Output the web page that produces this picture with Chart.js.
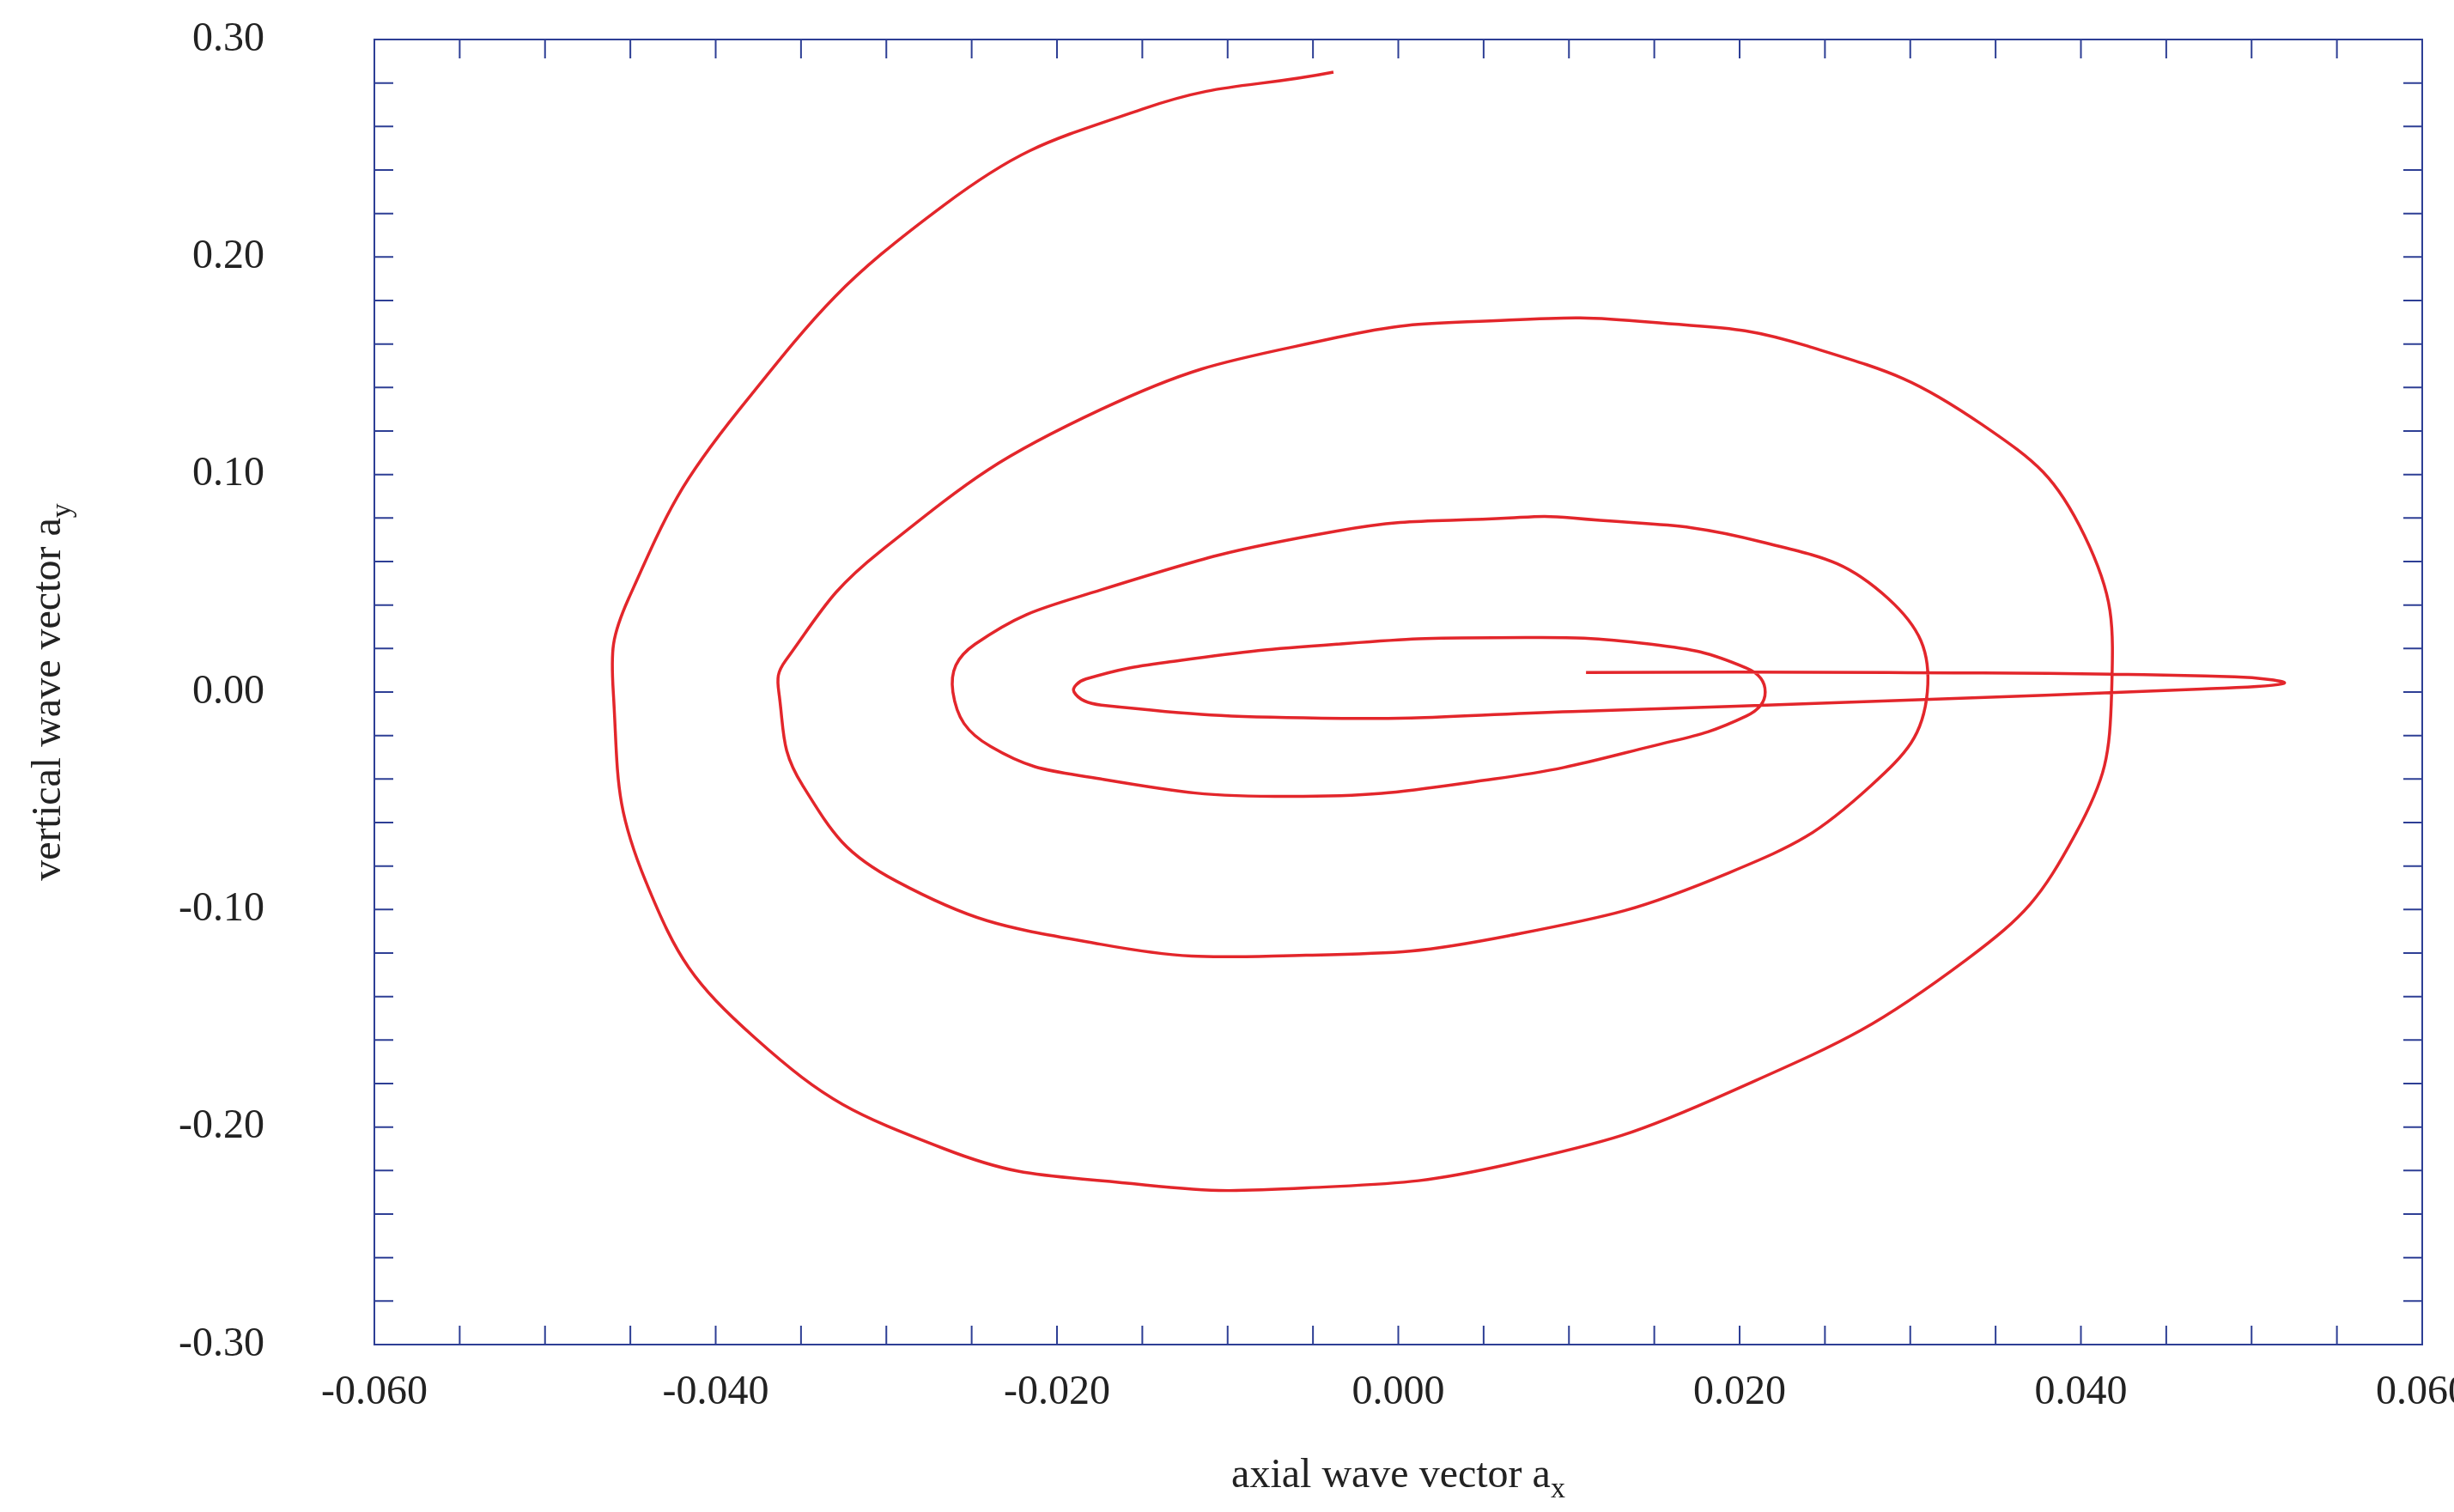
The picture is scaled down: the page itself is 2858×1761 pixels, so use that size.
<!DOCTYPE html>
<html lang="en">
<head>
    <meta charset="utf-8"/>
    <script src="https://cdn.jsdelivr.net/npm/chart.js@4.4.0/dist/chart.umd.min.js"></script>
    <style>
        html, body { margin: 0; padding: 0; background: #fff; }
        #wrap { width: 2858px; height: 1761px; }
    </style>
</head>
<body>
    <div id="wrap"><canvas id="c"></canvas></div>
    <script>
        // trajectory
        const ax = [-0.0038, -0.0150, -0.0266, -0.0386, -0.0451, -0.0460, -0.0441, -0.0377, -0.0266, -0.0156, -0.0054, 0.0065, 0.0194, 0.0333, 0.0397, 0.0418,
            0.0402, 0.0342, 0.0240, 0.0148, 0.0065, -0.0036, -0.0174, -0.0303, -0.0359, -0.0363, -0.0349, -0.0294, -0.0174, -0.0054, 0.0065, 0.0194, 0.0277, 0.0310,
            0.0287, 0.0213, 0.0102, 0.0065, -0.0036, -0.0174, -0.0248, -0.0261, -0.0239, -0.0174, -0.0064, 0.0056, 0.0148, 0.0204, 0.0215,
            0.0204, 0.0148, 0.0056, -0.0036, -0.0128, -0.0183, -0.0190, -0.0174, -0.0045, 0.0102, 0.0287, 0.0471, 0.0519, 0.0490, 0.0287, 0.0110];
        const ay = [0.285, 0.268, 0.224, 0.130, 0.043, 0.000, -0.087, -0.159, -0.210, -0.226, -0.228, -0.217, -0.184, -0.123, -0.065, 0.000,
            0.072, 0.123, 0.159, 0.170, 0.171, 0.163, 0.130, 0.065, 0.0145, 0.000, -0.043, -0.087, -0.116, -0.121, -0.112, -0.083, -0.043, 0.000,
            0.043, 0.069, 0.080, 0.080, 0.074, 0.047, 0.022, 0.000, -0.025, -0.040, -0.048, -0.040, -0.025, -0.011, 0.000,
            0.011, 0.022, 0.025, 0.022, 0.0145, 0.006, 0.000, -0.006, -0.012, -0.009, -0.004, 0.0014, 0.004, 0.007, 0.009, 0.009];
        const xTicks = [-0.06, -0.04, -0.02, 0, 0.02, 0.04, 0.06];
        const yTicks = [-0.3, -0.2, -0.1, 0, 0.1, 0.2, 0.3];

        const axisBlue = '#2e3f95';
        const main = '48px Liberation Serif';
        const sub = '34px Liberation Serif';

        const frame = {
            id: 'frame',
            afterDraw(chart) {
                const ctx = chart.ctx, a = chart.chartArea;
                const xs = chart.scales.x, ys = chart.scales.y;
                const len = 22;
                ctx.save();
                ctx.strokeStyle = axisBlue;
                ctx.lineWidth = 2;
                ctx.strokeRect(a.left, a.top, a.right - a.left, a.bottom - a.top);
                ctx.beginPath();
                for (let i = 0; i <= 24; i++) {
                    const px = xs.getPixelForValue(-0.06 + i * 0.005);
                    ctx.moveTo(px, a.bottom); ctx.lineTo(px, a.bottom - len);
                    ctx.moveTo(px, a.top); ctx.lineTo(px, a.top + len);
                }
                for (let i = 0; i <= 30; i++) {
                    const py = ys.getPixelForValue(-0.3 + i * 0.02);
                    ctx.moveTo(a.left, py); ctx.lineTo(a.left + len, py);
                    ctx.moveTo(a.right, py); ctx.lineTo(a.right - len, py);
                }
                ctx.stroke();

                // tick labels
                ctx.fillStyle = '#222';
                ctx.font = main;
                ctx.textBaseline = 'middle';
                ctx.textAlign = 'right';
                yTicks.forEach(v => ctx.fillText(v.toFixed(2), a.left - 128, ys.getPixelForValue(v)));
                ctx.textAlign = 'center';
                xTicks.forEach(v => ctx.fillText(v.toFixed(3), xs.getPixelForValue(v), a.bottom + 56));

                // axis titles with subscripts
                ctx.textBaseline = 'alphabetic';
                ctx.textAlign = 'left';
                let t = 'axial wave vector a';
                let w = ctx.measureText(t).width;
                ctx.font = sub;
                let ws = ctx.measureText('x').width;
                let x0 = (a.left + a.right) / 2 - (w + ws) / 2;
                ctx.font = main;
                ctx.fillText(t, x0, 1732);
                ctx.font = sub;
                ctx.fillText('x', x0 + w, 1744);

                ctx.translate(70, (a.top + a.bottom) / 2);
                ctx.rotate(-Math.PI / 2);
                ctx.font = main;
                t = 'vertical wave vector a';
                w = ctx.measureText(t).width;
                ctx.font = sub;
                ws = ctx.measureText('y').width;
                x0 = -(w + ws) / 2;
                ctx.font = main;
                ctx.fillText(t, x0, 0);
                ctx.font = sub;
                ctx.fillText('y', x0 + w, 12);
                ctx.restore();
            }
        };

        new Chart(document.getElementById('c'), {
            type: 'scatter',
            data: {
                datasets: [{
                    data: ax.map((v, i) => ({ x: v, y: ay[i] })),
                    showLine: true,
                    borderColor: '#e3262b',
                    borderWidth: 3.5,
                    pointRadius: 0,
                    tension: 0.45
                }]
            },
            options: {
                responsive: true,
                maintainAspectRatio: false,
                animation: false,
                layout: { padding: { top: 46, right: 37, left: 436, bottom: 195 } },
                plugins: { legend: { display: false }, tooltip: { enabled: false } },
                scales: {
                    x: { min: -0.06, max: 0.06, display: false },
                    y: { min: -0.3, max: 0.3, display: false }
                }
            },
            plugins: [frame]
        });
    </script>
</body>
</html>
